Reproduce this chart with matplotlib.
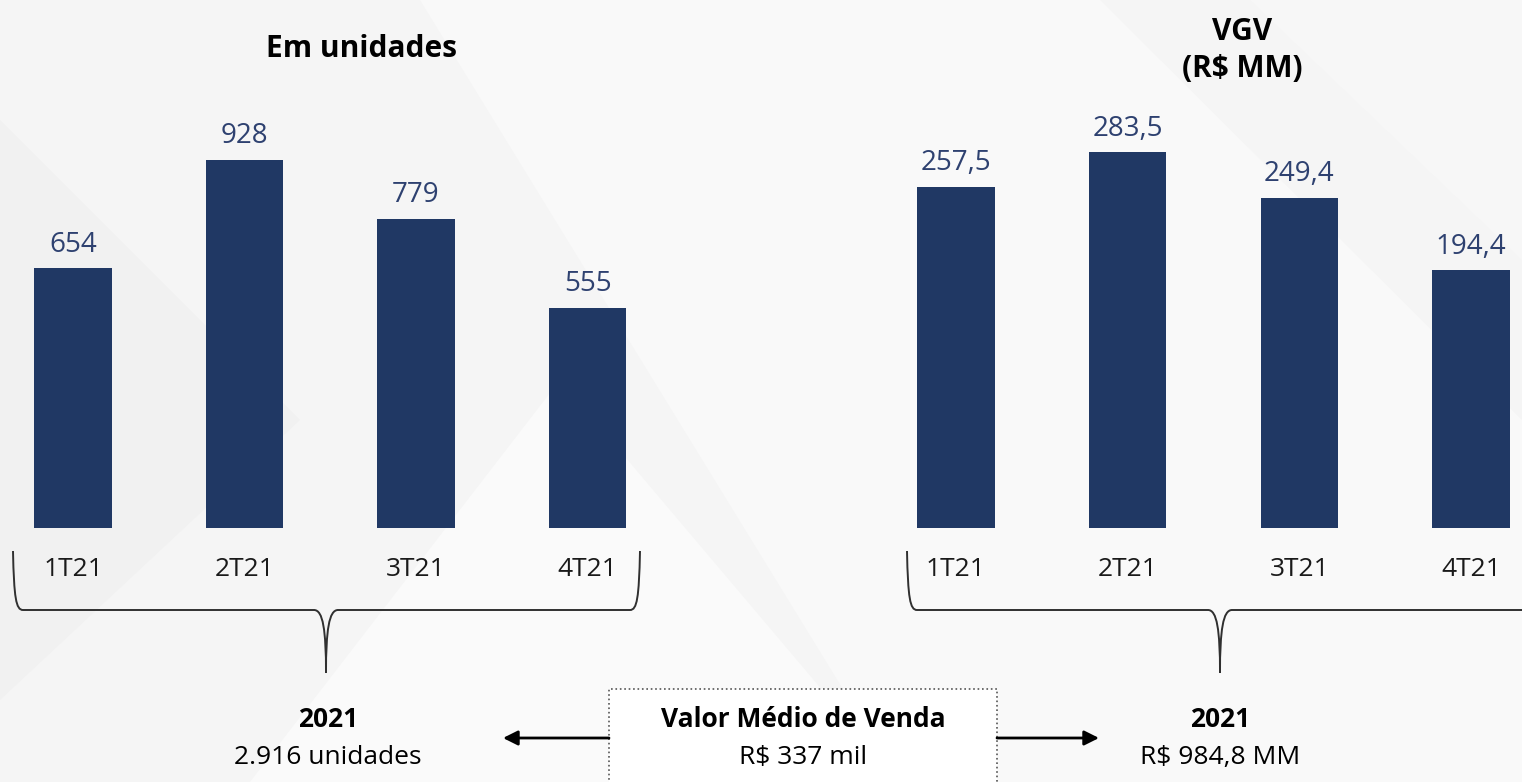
import matplotlib
matplotlib.use('Agg')
import matplotlib.pyplot as plt
from matplotlib.path import Path
from matplotlib.patches import PathPatch, Rectangle, FancyArrowPatch, Polygon

plt.rcParams['font.family'] = ['Open Sans', 'DejaVu Sans']

### Data ###

quarters = ['1T21', '2T21', '3T21', '4T21']
units = [654, 928, 779, 555]
vgv = [257.5, 283.5, 249.4, 194.4]

units_title = 'Em unidades'
vgv_title = 'VGV\n(R$ MM)'

### Helpers ###

W, H = 1522, 782
BAR = '#203864'
LABEL = '#2e4170'


def fx(x):
    return x / W


def fy(y):
    return 1 - y / H


def br(x):
    # decimal comma, thousands dot (pt-BR)
    return x.replace(',', '#').replace('.', ',').replace('#', '.')


def brace(x0, x1, xm, y_top, y_line, y_tip):
    verts = [(x0, y_top),
             (x0 + 1, y_line - 12), (x0 + 3, y_line), (x0 + 10, y_line),
             (xm - 12, y_line),
             (xm - 3, y_line), (xm, y_line + 20), (xm, y_tip),
             (xm, y_line + 20), (xm + 3, y_line), (xm + 12, y_line),
             (x1 - 10, y_line),
             (x1 - 3, y_line), (x1 - 1, y_line - 12), (x1, y_top)]
    codes = [Path.MOVETO,
             Path.CURVE4, Path.CURVE4, Path.CURVE4,
             Path.LINETO,
             Path.CURVE4, Path.CURVE4, Path.CURVE4,
             Path.CURVE4, Path.CURVE4, Path.CURVE4,
             Path.LINETO,
             Path.CURVE4, Path.CURVE4, Path.CURVE4]
    verts = [(fx(x), fy(y)) for x, y in verts]
    fig.add_artist(PathPatch(Path(verts, codes), transform=fig.transFigure,
                             fill=False, edgecolor='#303030', lw=1.4))


def bar_panel(rect, values, xlim, ylim, fmt):
    ax = fig.add_axes(rect)
    ax.set_facecolor('none')
    xs = range(len(values))
    bars = ax.bar(xs, values, width=0.45, color=BAR)
    ax.bar_label(bars, labels=[fmt(v) for v in values], padding=7,
                 fontsize=20, color=LABEL)
    ax.set_xlim(*xlim)
    ax.set_ylim(*ylim)
    ax.set_xticks(list(xs))
    ax.set_xticklabels(quarters, fontsize=19, color='#1a1a1a')
    ax.tick_params(axis='x', length=0, pad=21)
    ax.set_yticks([])
    for s in ax.spines.values():
        s.set_visible(False)
    return ax


fig = plt.figure(figsize=(W / 100, H / 100), dpi=100)
fig.patch.set_facecolor('#f5f5f5')

# soft diagonal shapes in the background
for pts, c in [([(420, 0), (1100, 0), (1522, 420), (1522, 782), (900, 782)], '#f9f9f9'),
               ([(0, 120), (300, 420), (0, 700)], '#f1f1f1'),
               ([(560, 380), (900, 782), (250, 782)], '#fafafa'),
               ([(1250, 0), (1522, 0), (1522, 260)], '#f7f7f7')]:
    fig.add_artist(Polygon([(fx(x), fy(y)) for x, y in pts], closed=True,
                           transform=fig.transFigure, facecolor=c,
                           edgecolor='none', zorder=0))

# left panel: units, bars centred at 73 + i*171.5 px, baseline at 528 px
bar_panel([0, fy(528), 660 / W, 528 / H], units,
          ((0 - 73) / 171.5, (660 - 73) / 171.5), (0, 528 / 0.397),
          lambda v: str(v))

# right panel: VGV, bars centred at 956 + i*171.7 px
bar_panel([880 / W, fy(528), 642 / W, 528 / H], vgv,
          ((880 - 956) / 171.7, (1522 - 956) / 171.7), (0, 528 / 1.325),
          lambda v: br(f'{v:.1f}'))

fig.text(fx(362), fy(57), units_title, ha='center', va='baseline',
         fontsize=21.5, fontweight='bold', color='black')
fig.text(fx(1242), fy(77), vgv_title, ha='center', va='baseline',
         fontsize=21.5, fontweight='bold', color='black', linespacing=1.3)

brace(13, 640, 326, 551, 610, 673)
brace(907, 1540, 1220, 551, 610, 673)

# totals
units_total = sum(units)
vgv_total = sum(vgv)
avg_price = int(vgv_total * 1000 / units_total)

fig.text(fx(328), fy(727), '2021', ha='center', va='baseline',
         fontsize=19, fontweight='bold')
fig.text(fx(328), fy(764), br(f'{units_total:,}') + ' unidades',
         ha='center', va='baseline', fontsize=19)
fig.text(fx(1220), fy(727), '2021', ha='center', va='baseline',
         fontsize=19, fontweight='bold')
fig.text(fx(1220), fy(764), 'R$ ' + br(f'{vgv_total:.1f}') + ' MM',
         ha='center', va='baseline', fontsize=19)

# average price box with arrows
fig.add_artist(Rectangle((fx(609), fy(800)), (997 - 609) / W, (800 - 689) / H,
                         transform=fig.transFigure, facecolor='white',
                         edgecolor='#555555', ls=':', lw=1.2))
fig.text(fx(803), fy(727), 'Valor Médio de Venda', ha='center',
         va='baseline', fontsize=19, fontweight='bold')
fig.text(fx(803), fy(764), f'R$ {avg_price} mil', ha='center',
         va='baseline', fontsize=19)
for x0, x1 in [(609, 503), (997, 1099)]:
    fig.add_artist(FancyArrowPatch((fx(x0), fy(738)), (fx(x1), fy(738)),
                                   transform=fig.transFigure,
                                   arrowstyle='-|>', mutation_scale=22,
                                   shrinkA=0, shrinkB=0, lw=2,
                                   color='black'))

fig.savefig('out.png', dpi=100, facecolor=fig.get_facecolor())
